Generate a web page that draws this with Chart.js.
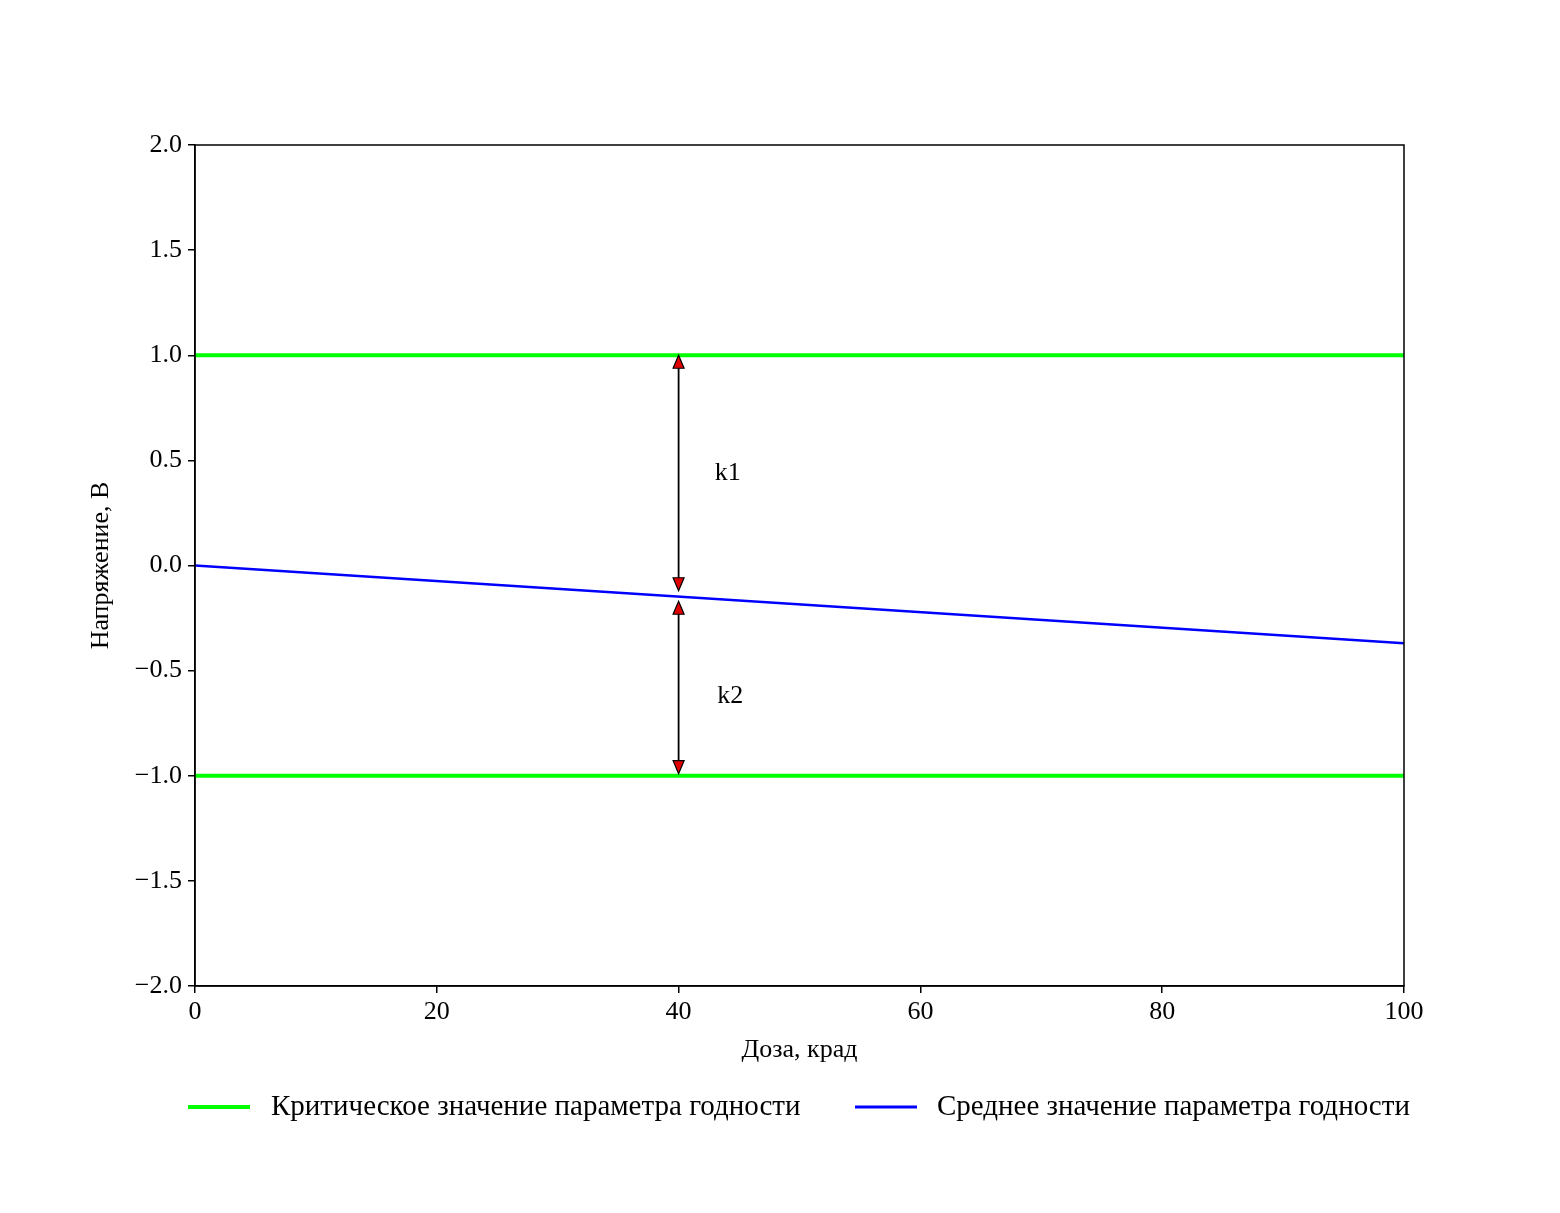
<!DOCTYPE html>
<html><head><meta charset="utf-8">
<script src="https://cdn.jsdelivr.net/npm/chart.js@4/dist/chart.umd.min.js"></script>
<style>body{margin:0;background:#fff}#c{display:block}</style>
</head><body>
<canvas id="c" width="1560" height="1213"></canvas>
<script>
// Данные
const dozaX = [0, 100];
const kritVerh = [1.0, 1.0];
const kritNiz = [-1.0, -1.0];
const srednee = [0.0, -0.37];
const strelkaX = 40;
const k1 = [1.0, -0.12];
const k2 = [-0.17, -0.99];
const yTicks = [-2.0, -1.5, -1.0, -0.5, 0.0, 0.5, 1.0, 1.5, 2.0];
const xTitle = "Доза, крад";
const yTitle = "Напряжение, В";
const legendTexts = ["Критическое значение параметра годности", "Среднее значение параметра годности"];

const FONT = "'Liberation Serif', 'DejaVu Serif', serif";
Chart.defaults.font.family = FONT;
Chart.defaults.color = "#000";

const pts = arr => dozaX.map((x, i) => ({ x, y: arr[i] }));

// Рамка, стрелки, подписи осей и легенда
const extras = {
  id: "extras",
  afterDatasetsDraw(chart) {
    const { ctx, chartArea: a, scales: { x, y } } = chart;
    ctx.save();
    ctx.strokeStyle = "#000"; ctx.lineWidth = 1.5;
    ctx.strokeRect(a.left, a.top, a.right - a.left, a.bottom - a.top);

    function strelka(y1, y2) {
      const px = x.getPixelForValue(strelkaX);
      const p1 = y.getPixelForValue(y1), p2 = y.getPixelForValue(y2);
      ctx.strokeStyle = "#000"; ctx.lineWidth = 1.8;
      ctx.beginPath(); ctx.moveTo(px, p1 + 10); ctx.lineTo(px, p2 - 10); ctx.stroke();
      const head = (tip, dir) => {
        ctx.beginPath();
        ctx.moveTo(px, tip);
        ctx.lineTo(px - 5.5, tip + dir * 13);
        ctx.lineTo(px + 5.5, tip + dir * 13);
        ctx.closePath();
        ctx.fillStyle = "#e00000"; ctx.fill();
        ctx.lineWidth = 1.2; ctx.stroke();
      };
      head(p1, 1); head(p2, -1);
    }
    strelka(k1[0], k1[1]);
    strelka(k2[0], k2[1]);

    ctx.fillStyle = "#000";
    ctx.font = "26px " + FONT;
    ctx.textBaseline = "middle";
    ctx.fillText("k1", x.getPixelForValue(43), y.getPixelForValue(0.44));
    ctx.fillText("k2", x.getPixelForValue(43.2), y.getPixelForValue(-0.62));

    // подписи осей
    ctx.textAlign = "center";
    ctx.fillText(xTitle, (a.left + a.right) / 2, 1050);
    ctx.save();
    ctx.translate(101, (a.top + a.bottom) / 2);
    ctx.rotate(-Math.PI / 2);
    ctx.fillText(yTitle, 0, 0);
    ctx.restore();

    // легенда
    ctx.textAlign = "left";
    const ly = 1107;
    ctx.lineWidth = 4; ctx.strokeStyle = "#00ff00";
    ctx.beginPath(); ctx.moveTo(188, ly); ctx.lineTo(250, ly); ctx.stroke();
    ctx.lineWidth = 3; ctx.strokeStyle = "#0000ff";
    ctx.beginPath(); ctx.moveTo(855, ly); ctx.lineTo(917, ly); ctx.stroke();
    ctx.font = "29px " + FONT;
    ctx.fillText(legendTexts[0], 271, ly);
    ctx.fillText(legendTexts[1], 937, ly);
    ctx.restore();
  }
};

new Chart(document.getElementById("c"), {
  type: "scatter",
  data: {
    datasets: [
      { data: pts(kritVerh), showLine: true, borderColor: "#00ff00", borderWidth: 4, pointRadius: 0 },
      { data: pts(kritNiz), showLine: true, borderColor: "#00ff00", borderWidth: 4, pointRadius: 0 },
      { data: pts(srednee), showLine: true, borderColor: "#0000ff", borderWidth: 2.5, pointRadius: 0 }
    ]
  },
  options: {
    responsive: false, animation: false,
    layout: { padding: { top: 145, right: 156, left: 0, bottom: 0 } },
    plugins: { legend: { display: false }, tooltip: { enabled: false } },
    scales: {
      x: {
        type: "linear", min: 0, max: 100,
        ticks: { stepSize: 20, font: { size: 26 }, padding: 4 },
        grid: { drawOnChartArea: false, drawTicks: true, tickLength: 7, color: "#000", lineWidth: 1.5 },
        border: { display: true, color: "#000", width: 1.5 },
        afterFit: s => { s.height = 227; }
      },
      y: {
        min: -2, max: 2,
        afterBuildTicks: s => { s.ticks = yTicks.map(v => ({ value: v })); },
        ticks: { font: { size: 26 }, padding: 6,
          callback: v => (v < 0 ? "\u2212" + Math.abs(v).toFixed(1) : v.toFixed(1)) },
        grid: { drawOnChartArea: false, drawTicks: true, tickLength: 7, color: "#000", lineWidth: 1.5 },
        border: { display: true, color: "#000", width: 1.5 },
        afterFit: s => { s.width = 195; }
      }
    }
  },
  plugins: [extras]
});
</script>
</body></html>
